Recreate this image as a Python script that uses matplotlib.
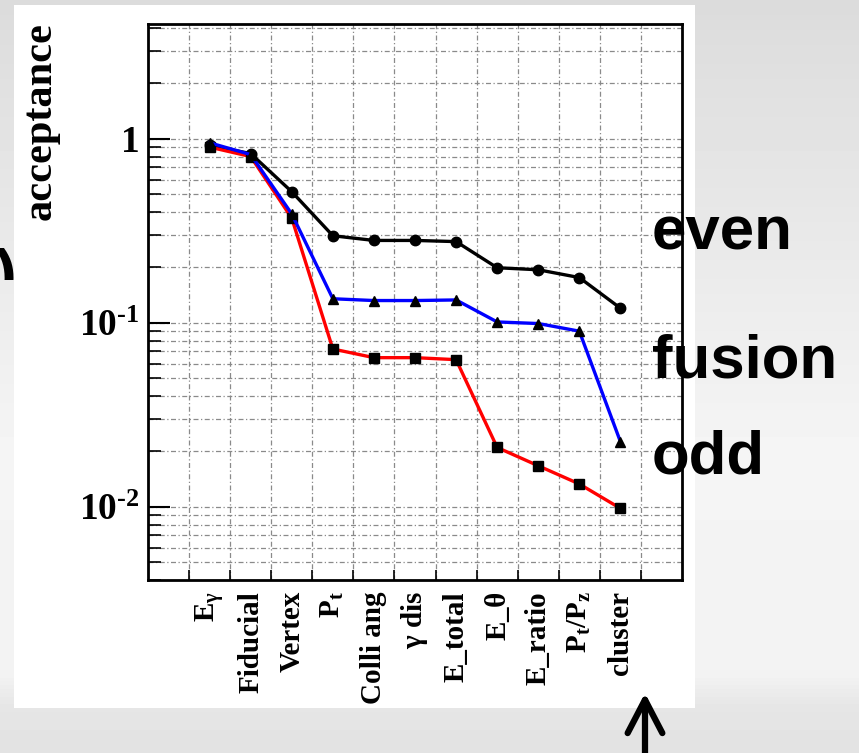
import numpy as np
import matplotlib
matplotlib.use('Agg')
import matplotlib.pyplot as plt
from matplotlib.patches import Rectangle, FancyArrowPatch
from matplotlib.ticker import FixedLocator, FixedFormatter, LogLocator, NullFormatter
from matplotlib.transforms import Bbox

# cut flow and acceptance after each cut
cuts = ['E$_\\gamma$', 'Fiducial', 'Vertex', 'P$_t$', 'Colli ang', '$\\gamma$ dis',
        'E_total', 'E_$\\theta$', 'E_ratio', 'P$_t$/P$_z$', 'cluster']
even = [0.92, 0.83, 0.515, 0.297, 0.28, 0.28, 0.276, 0.199, 0.194, 0.176, 0.12]
fusion = [0.95, 0.82, 0.39, 0.135, 0.132, 0.132, 0.133, 0.101, 0.099, 0.09, 0.0226]
odd = [0.90, 0.80, 0.37, 0.072, 0.0646, 0.0646, 0.063, 0.021, 0.0167, 0.0133, 0.0098]
notes = ['even', 'fusion', 'odd']
ytick_vals = [0.01, 0.1, 1]
ytick_text = ['10$^{\\text{-2}}$', '10$^{\\text{-1}}$', '1']

plt.rcParams['mathtext.fontset'] = 'custom'
plt.rcParams['mathtext.rm'] = 'Liberation Serif:bold'
plt.rcParams['mathtext.it'] = 'Liberation Serif:bold'
plt.rcParams['mathtext.bf'] = 'Liberation Serif:bold'

W, H = 859, 753
fig = plt.figure(figsize=(W / 100, H / 100), dpi=100)

# slide background (grey gradient) and white picture box
bg = fig.add_axes([0, 0, 1, 1], zorder=-5)
rows = np.linspace(0, 1, 200)
shade = np.interp(rows, [0, 0.05, 0.6, 0.9, 0.94, 1.0], [0.86, 0.87, 0.96, 0.95, 0.90, 0.89])
grad = np.tile(shade[:, None], (1, 20))
bg.imshow(grad, cmap='gray', vmin=0, vmax=1, extent=[0, 1, 0, 1], aspect='auto', origin='upper')
bg.add_patch(Rectangle((14 / W, 1 - 708 / H), 681 / W, 703 / H, transform=bg.transAxes,
                       facecolor='white', edgecolor='none'))
bg.set_xlim(0, 1)
bg.set_ylim(0, 1)
bg.axis('off')

ax = fig.add_axes([148 / W, 1 - 580 / H, (682 - 148) / W, (580 - 24) / H], zorder=1)
x = np.arange(len(cuts))
ax.plot(x, even, color='black', lw=2.4, marker='o', ms=7.5, mfc='black', mec='black', zorder=3)
ax.plot(x, odd, color='red', lw=2.4, marker='s', ms=6.5, mfc='black', mec='black', zorder=3)
ax.plot(x, fusion, color='blue', lw=2.4, marker='^', ms=6.5, mfc='black', mec='black', zorder=3)

ax.set_yscale('log')
ax.set_ylim(0.004, 4.2)
ax.set_xlim(-1.5, len(cuts) + 0.5)

edges = np.arange(-0.5, len(cuts))
ax.set_xticks(edges)
ax.set_xticklabels([])
ax.set_xticks(x, minor=True)
ax.set_xticklabels(cuts, minor=True, rotation=90, fontsize=21,
                   fontfamily='Liberation Serif', fontweight='bold')
ax.tick_params(axis='x', which='minor', length=0, pad=8)
ax.tick_params(axis='x', which='major', direction='in', length=7, width=1.2)

ax.yaxis.set_major_locator(FixedLocator(ytick_vals))
ax.yaxis.set_major_formatter(FixedFormatter(ytick_text))
ax.yaxis.set_minor_locator(LogLocator(base=10, subs=np.arange(2, 10)))
ax.yaxis.set_minor_formatter(NullFormatter())
ax.tick_params(axis='y', which='major', direction='in', length=16, width=1.5, labelsize=27, pad=6)
ax.tick_params(axis='y', which='minor', direction='in', length=9, width=1.2)
for lab in ax.get_yticklabels():
    lab.set_fontfamily('Liberation Serif')
    lab.set_fontweight('bold')

grid_style = dict(color='#8a8a8a', lw=0.9, linestyle=(0, (4, 2, 1, 2)))
ax.grid(True, which='major', axis='both', **grid_style)
ax.grid(True, which='minor', axis='y', **grid_style)
for s in ax.spines.values():
    s.set_linewidth(2)

fig.text(41 / W, 1 - 121 / H, 'acceptance', rotation=90, ha='center', va='center',
         fontsize=30.5, fontfamily='Liberation Serif', fontweight='bold')

# slide annotations
for name, yb in zip(notes, [250, 377, 473]):
    fig.text(652 / W, 1 - yb / H, name, fontsize=44.5, fontweight='bold',
             fontfamily='Liberation Sans', va='baseline', ha='left', zorder=5)

paren = fig.text(-5 / W, 1 - 295 / H, ')', fontsize=47, fontweight='bold',
                 fontfamily='Liberation Sans', va='baseline', ha='left')
paren.set_clip_box(Bbox.from_extents(0, H - 280, 14, H))
paren.set_clip_on(True)

arrow = FancyArrowPatch((645 / W, -0.01), (645 / W, 1 - 693 / H), transform=fig.transFigure,
                        arrowstyle='->,head_length=2.4,head_width=1.25', mutation_scale=10,
                        lw=4.5, color='black', shrinkA=0, shrinkB=0,
                        capstyle='round', joinstyle='round')
fig.add_artist(arrow)

fig.savefig('out.png', dpi=100)
